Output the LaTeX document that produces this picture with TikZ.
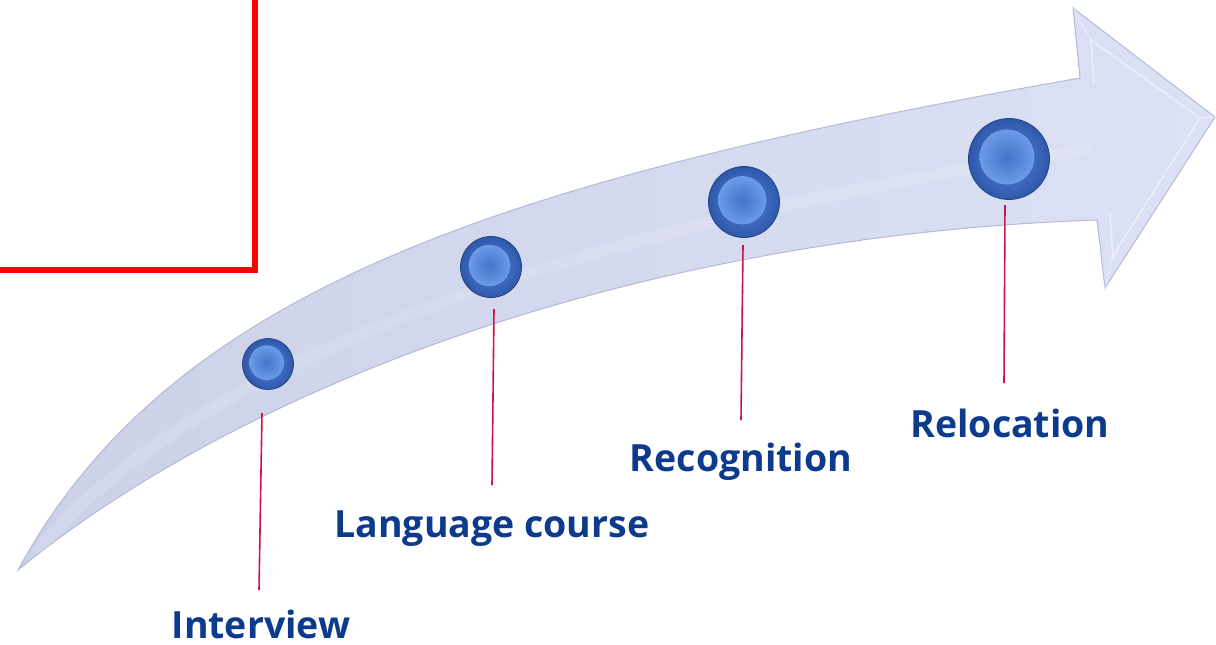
\documentclass[tikz,border=0pt]{standalone}
\usepackage{fontspec}
\setmainfont{Open Sans}
\usetikzlibrary{calc}
\definecolor{lblcol}{RGB}{12,58,140}
\definecolor{leadcol}{RGB}{204,20,70}
\definecolor{shaftL}{RGB}{204,209,232}
\definecolor{shaftR}{RGB}{220,225,245}
\definecolor{shaftEdge}{RGB}{180,186,214}
\definecolor{ballOut}{RGB}{46,88,172}
\definecolor{ballIn}{RGB}{86,134,214}
\definecolor{dimIn}{RGB}{66,116,202}
\definecolor{dimOut}{RGB}{108,156,230}
\newcommand\ballat[4]{%
  \node[sphereball=#4pt] (#1) at (#2,#3) {};
  \shade[inner color=dimIn, outer color=dimOut] ($(#1.center)+(-0.05*#4,-0.05*#4)$) circle [radius={0.34*#4pt}];
}
\begin{document}
\begin{tikzpicture}[x=0.5pt,y=-0.5pt,
  lbltext/.style={font=\bfseries\fontsize{18.75}{22}\selectfont, text=lblcol, anchor=base, inner sep=0pt},
  leaderline/.style={draw=leadcol, line width=0.8pt},
  sphereball/.style={circle, inner sep=0pt, minimum size=#1, draw=ballOut!75!black, line width=0.4pt, inner color=ballIn, outer color=ballOut},
]
\useasboundingbox (0,0) rectangle (1216,644);
\begin{scope}
\clip (0,0) rectangle (1216,644);
% red frame corner
\draw[red, line width=3pt] (-10,270) -- (255,270) -- (255,-10);
% curved arrow
\shadedraw[left color=shaftL, right color=shaftR, draw=shaftEdge, line width=0.5pt]
  (18,570) .. controls (170,290) and (500,180) .. (1080,78)
  -- (1073,8) -- (1215,117) -- (1105,288) -- (1097,220)
  .. controls (650,235) and (250,380) .. cycle;
% faint highlight along the shaft
\draw[white, opacity=0.12, line width=6pt, line cap=round]
  (40,548) .. controls (200,360) and (560,230) .. (1085,150);
% head bevel
\draw[white, opacity=0.45, line width=0.8pt]
  (1094,84) -- (1091,40) -- (1200,118) -- (1113,256) -- (1110,214);
\draw[white, opacity=0.35, line width=0.6pt] (1073,8) -- (1091,40);
\draw[white, opacity=0.35, line width=0.6pt] (1215,117) -- (1200,118);
\draw[white, opacity=0.35, line width=0.6pt] (1105,288) -- (1113,256);
\end{scope}
% spheres
\ballat{s1}{268}{364}{25.5}
\ballat{s2}{491}{267}{30.5}
\ballat{s3}{744}{202}{35.5}
\ballat{s4}{1009}{159}{40.5}
% labels
\node[lbltext] (t1) at (261,638) {Interview};
\node[lbltext] (t2) at (492,537) {Language course};
\node[lbltext] (t3) at (741,471) {Recognition};
\node[lbltext] (t4) at (1010,437) {Relocation};
% leader lines
\coordinate (l1a) at (262,413); \coordinate (l1b) at (259,590);
\coordinate (l2a) at (494,309); \coordinate (l2b) at (492,485);
\coordinate (l3a) at (743,245); \coordinate (l3b) at (741,420);
\coordinate (l4a) at (1005,205); \coordinate (l4b) at (1004,383);
\draw[leaderline] (l1a) -- (l1b);
\draw[leaderline] (l2a) -- (l2b);
\draw[leaderline] (l3a) -- (l3b);
\draw[leaderline] (l4a) -- (l4b);
\end{tikzpicture}
\end{document}
